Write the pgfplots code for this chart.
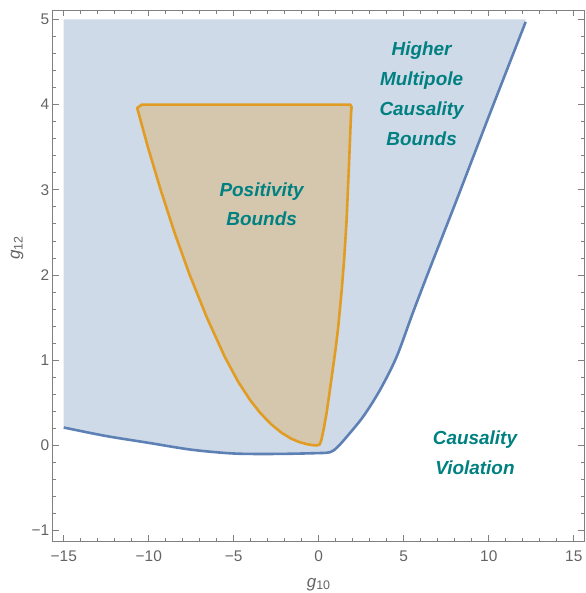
\documentclass[border=0pt]{standalone}
\usepackage{fontspec}
\setmainfont{Liberation Sans}
\usepackage{pgfplots}
\pgfplotsset{compat=1.18}

\definecolor{mblue}{RGB}{94,129,181}
\definecolor{mbluefill}{RGB}{207,218,233}
\definecolor{morange}{RGB}{225,156,36}
\definecolor{morangefill}{RGB}{212,199,174}
\definecolor{lbl}{RGB}{100,100,100}
\definecolor{frame}{RGB}{128,128,128}
\definecolor{note}{RGB}{0,128,128}

\begin{document}
\begin{tikzpicture}
\begin{axis}[name=ax,
  scale only axis,
  width=531.6bp, height=531.7bp,
  xmin=-15.65, xmax=15.62,
  ymin=-1.13, ymax=5.11,
  axis line style={frame, line width=0.8bp},
  tick style={frame, line width=0.8bp},
  major tick length=6.5bp, minor tick length=3.8bp,
  tick align=inside,
  xtick={-15,-10,-5,0,5,10,15},
  xticklabels={−15,−10,−5,0,5,10,15},
  ytick={-1,0,1,2,3,4,5},
  yticklabels={−1,0,1,2,3,4,5},
  minor x tick num=4, minor y tick num=4,
  ticklabel style={font=\fontsize{15.5}{18}\selectfont, text=lbl},
  xticklabel style={yshift=-5.5bp},
  xlabel={\textit{g}\raisebox{-0.3ex}{\fontsize{12.5}{13}\selectfont 10}},
  ylabel={\textit{g}\raisebox{-0.3ex}{\fontsize{12.5}{13}\selectfont 12}},
  label style={font=\fontsize{17}{19}\selectfont, text=lbl},
  xlabel style={at={(axis description cs:0.5,0)}, anchor=north, inner sep=1bp, yshift=-35.3bp},
  ylabel style={at={(axis description cs:-0.067,0.552)}, anchor=center},
]
% causality region (fill)
\addplot[draw=none, fill=mbluefill] coordinates {
  (-15,5) (-15,0.24) (-15,0.21) (-12.5,0.11) (-10,0.03) (-7.5,-0.05) (-5,-0.095)
  (-2.5,-0.1) (0,-0.09) (0.66,-0.08) (1.05,-0.03) (1.64,0.10) (2.62,0.34)
  (3.6,0.65) (4.58,1.04) (5.56,1.57) (6.54,2.08) (8.11,2.88) (10,3.86)
  (12.17,4.97) (12.17,5)
} -- cycle;
% causality boundary
\addplot[mblue, line width=2.6bp, smooth] coordinates {
  (-15,0.21) (-12.5,0.11) (-10,0.03) (-7.5,-0.05) (-5,-0.095)
  (-2.5,-0.1) (0,-0.09) (0.66,-0.08) (1.05,-0.03) (1.64,0.10) (2.62,0.34)
  (3.6,0.65) (4.58,1.04) (5.56,1.57) (6.54,2.08) (8.11,2.88) (10,3.86)
  (12.17,4.97)
};
% positivity region
\addplot[morange, line width=2.6bp, fill=morangefill, line join=round] coordinates {
  (-10.4,4.0) (-10.68,3.96) (-10.05,3.5) (-9.30,3.0) (-8.49,2.5) (-7.59,2.0)
  (-6.58,1.5) (-5.53,1.04) (-4.75,0.75) (-4.03,0.53) (-3.44,0.38) (-2.81,0.25)
  (-2.20,0.15) (-1.63,0.08) (-1.16,0.04) (-0.71,0.015) (-0.35,0.003) (-0.1,0.0)
  (0.05,0.01) (0.15,0.06) (0.28,0.18) (0.46,0.38) (0.62,0.6) (0.76,0.8) (1.01,1.16)
  (1.15,1.4) (1.35,1.82) (1.5,2.2) (1.64,2.65) (1.78,3.3) (1.9,3.9)
  (1.93,3.97) (1.85,4.0)
} -- cycle;
\node[align=center, text=note, font=\fontsize{19}{30}\selectfont\bfseries\itshape]
  at (axis cs:6.05,4.13) {Higher\\Multipole\\Causality\\Bounds};
\node[align=center, text=note, font=\fontsize{19}{30}\selectfont\bfseries\itshape]
  at (axis cs:-3.36,2.83) {Positivity\\Bounds};
\node[align=center, text=note, font=\fontsize{19}{30}\selectfont\bfseries\itshape]
  at (axis cs:9.19,-0.09) {Causality\\Violation};
\end{axis}
\pgfresetboundingbox
\path (ax.south west) ++(-52.7bp,-51.3bp) coordinate (bl);
\path (ax.north east) ++(1.7bp,10bp) coordinate (tr);
\path (bl) rectangle (tr);
\end{tikzpicture}
\end{document}
